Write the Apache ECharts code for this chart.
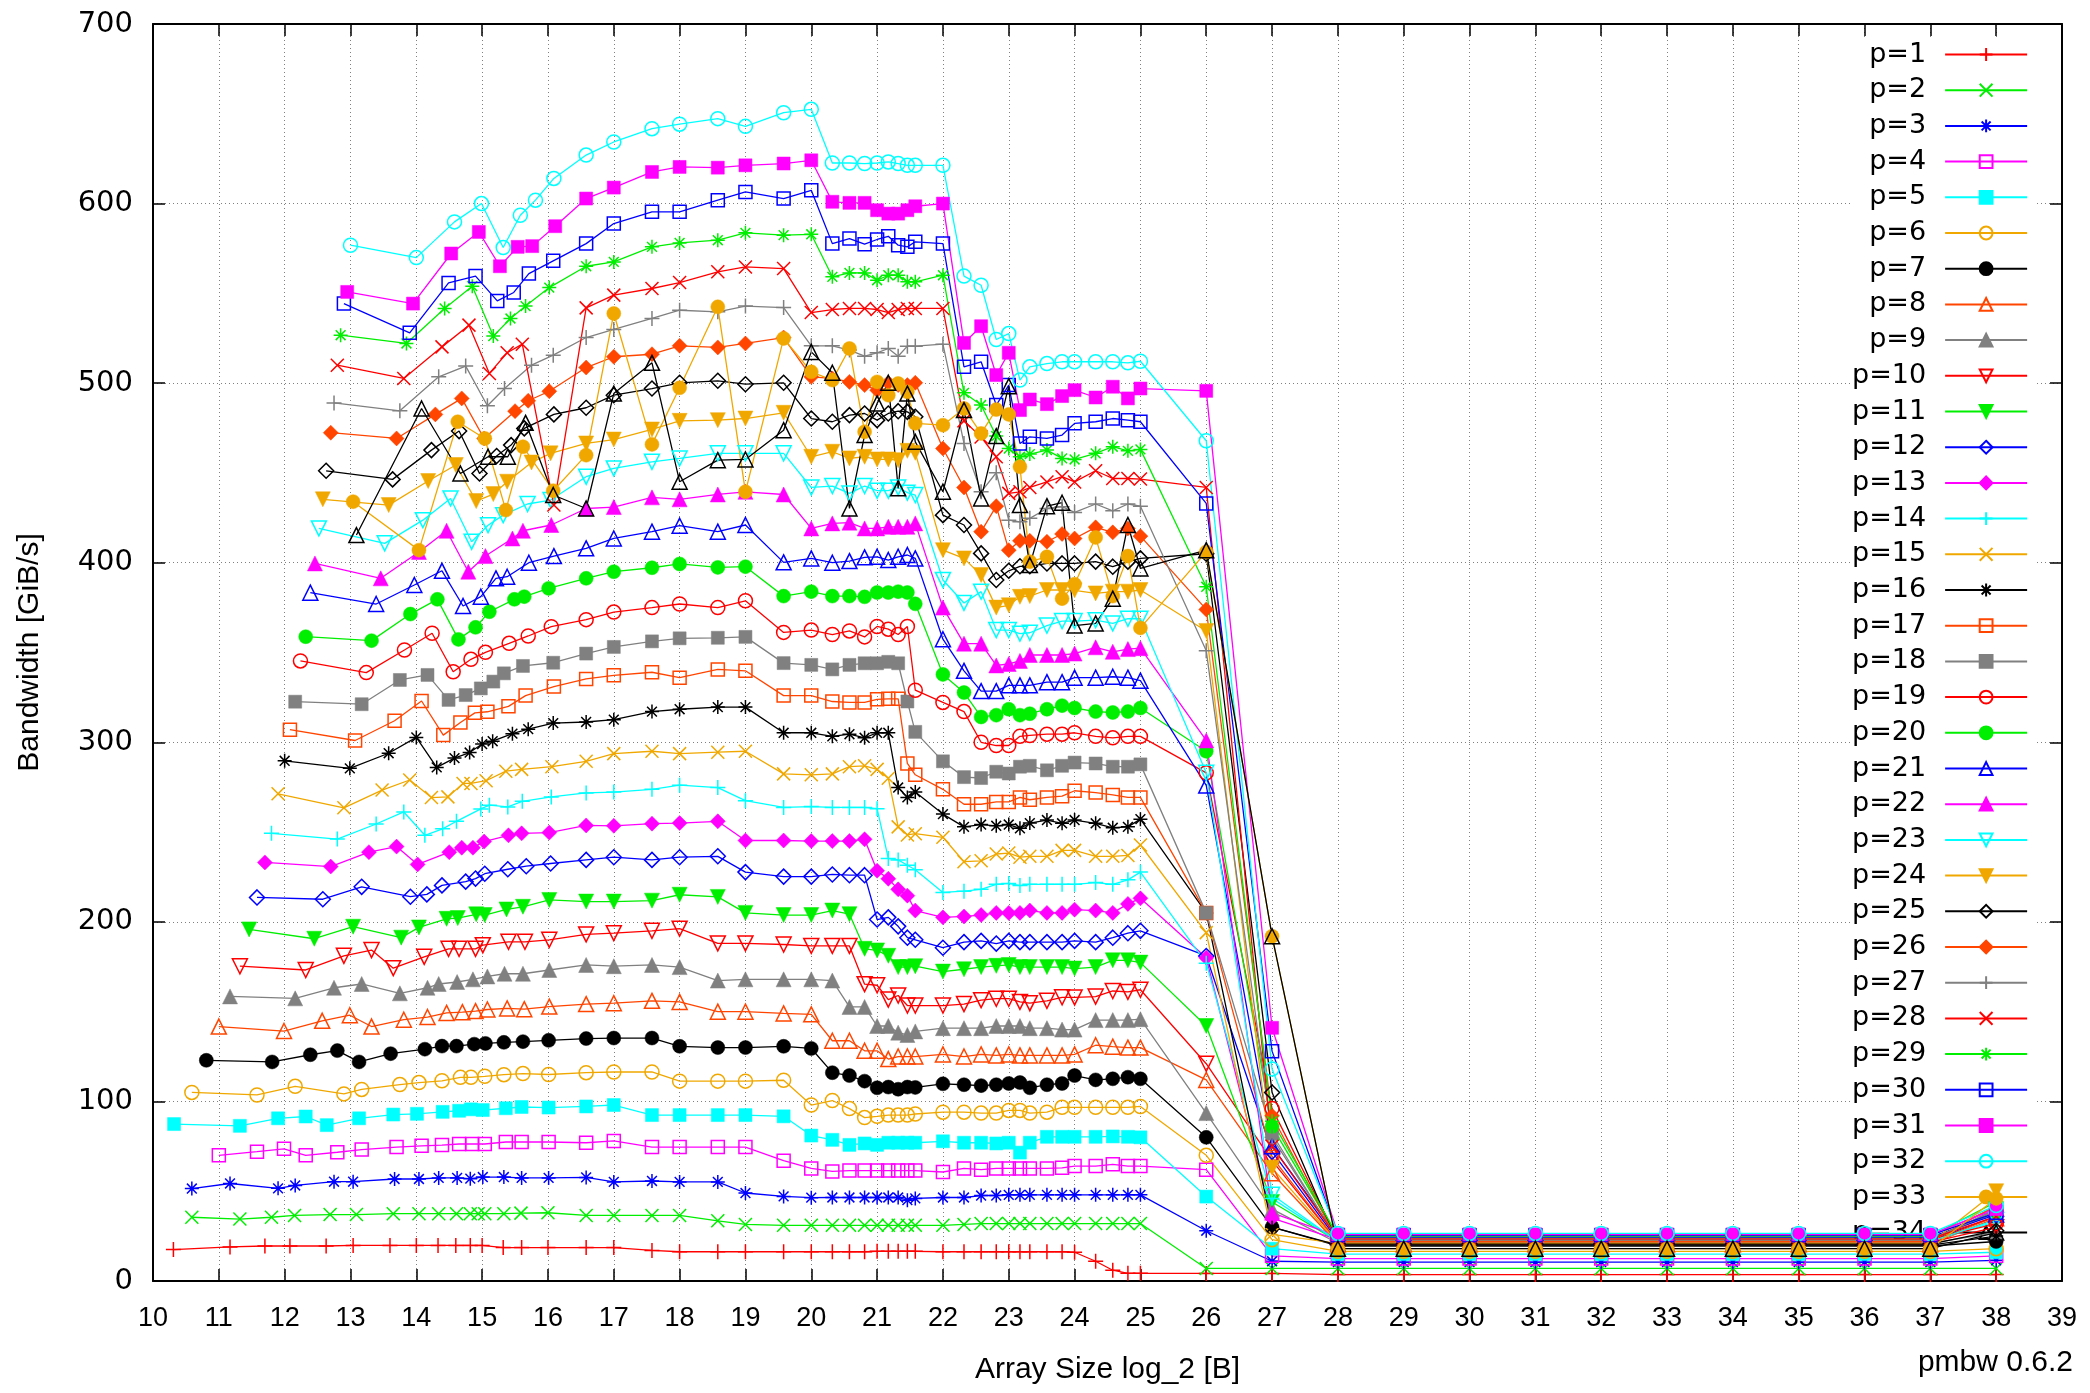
<!DOCTYPE html>
<html>
<head>
<meta charset="utf-8">
<script src="https://cdn.jsdelivr.net/npm/echarts/dist/echarts.min.js"></script>
<style>
  html, body { margin: 0; padding: 0; background: #fff; }
  #chart { width: 2090px; height: 1393px; }
</style>
</head>
<body>
<div id="chart"></div>
<script>
// thread counts
var NAMES = ['p=1','p=2','p=3','p=4','p=5','p=6','p=7','p=8','p=9','p=10','p=11','p=12',
  'p=13','p=14','p=15','p=16','p=17','p=18','p=19','p=20','p=21','p=22','p=23','p=24',
  'p=25','p=26','p=27','p=28','p=29','p=30','p=31','p=32','p=33','p=34'];

// small arrays: each series has its own sizes up to 16
var HEAD_X = [
  [10.31,11.17,11.70,12.08,12.63,13.04,13.6,14.0,14.33,14.6,14.82,15.0,15.32,15.6,16.0],
  [10.59,11.32,11.80,12.15,12.69,13.09,13.65,14.04,14.34,14.61,14.82,14.94,15.04,15.33,15.59,16.0],
  [10.59,11.17,11.9,12.16,12.75,13.04,13.67,14.04,14.34,14.62,14.82,15.01,15.33,15.6,16.01],
  [11.0,11.58,11.99,12.32,12.8,13.17,13.7,14.08,14.39,14.65,14.85,15.04,15.36,15.6,16.01],
  [10.32,11.32,11.90,12.32,12.64,13.13,13.65,14.01,14.40,14.65,14.83,15.01,15.36,15.6,16.01],
  [10.59,11.58,12.16,12.9,13.17,13.75,14.04,14.39,14.67,14.83,15.04,15.33,15.62,16.01],
  [10.81,11.81,12.39,12.8,13.13,13.61,14.13,14.39,14.61,14.88,15.05,15.33,15.62,16.01],
  [11.0,11.99,12.57,12.99,13.32,13.81,14.17,14.46,14.7,14.9,15.08,15.38,15.64,16.02],
  [11.17,12.16,12.75,13.17,13.75,14.17,14.34,14.62,14.86,15.08,15.34,15.62,16.02],
  [11.32,12.32,12.9,13.32,13.65,14.12,14.49,14.65,14.9,15.01,15.4,15.65,16.02],
  [11.46,12.45,13.04,13.77,14.04,14.46,14.63,14.91,15.04,15.37,15.62,16.02],
  [11.58,12.58,13.17,13.91,14.16,14.39,14.75,14.9,15.04,15.39,15.67,16.04],
  [11.7,12.7,13.28,13.7,14.02,14.5,14.69,14.86,15.03,15.4,15.6,16.02],
  [11.8,12.8,13.39,13.81,14.13,14.4,14.61,14.98,15.11,15.39,15.61,16.05],
  [11.9,12.9,13.48,13.9,14.23,14.48,14.71,14.83,15.06,15.36,15.6,16.06],
  [12.0,12.99,13.58,14.0,14.31,14.58,14.81,15.0,15.16,15.46,15.7,16.08],
  [12.08,13.07,13.67,14.08,14.41,14.67,14.89,15.08,15.4,15.66,16.09],
  [12.16,13.17,13.75,14.17,14.49,14.75,14.98,15.17,15.33,15.62,16.08],
  [12.24,13.24,13.82,14.24,14.56,14.83,15.05,15.41,15.7,16.05],
  [12.32,13.32,13.91,14.32,14.64,14.9,15.11,15.49,15.64,16.01],
  [12.39,13.39,13.97,14.39,14.71,14.98,15.21,15.38,15.71,16.09],
  [12.46,13.46,14.04,14.46,14.79,15.05,15.46,15.62,16.05],
  [12.52,13.52,14.1,14.52,14.84,15.09,15.32,15.69,16.04],
  [12.58,13.58,14.18,14.6,14.91,15.17,15.38,15.75,16.04],
  [12.63,13.64,14.23,14.65,14.96,15.22,15.44,15.64,16.09],
  [12.7,13.7,14.29,14.69,15.03,15.5,15.7,16.02],
  [12.75,13.75,14.34,14.75,15.08,15.34,15.75,16.08],
  [12.8,13.81,14.39,14.8,15.11,15.38,15.61,16.09],
  [12.85,13.85,14.43,14.85,15.17,15.43,15.66,16.02],
  [12.9,13.9,14.49,14.9,15.23,15.48,15.71,16.08],
  [12.95,13.95,14.53,14.95,15.27,15.54,15.76,16.11],
  [13.0,14.0,14.58,14.99,15.32,15.58,15.81,16.09],
  [13.04,14.04,14.63,15.04,15.36,15.62,16.08],
  [13.09,14.08,14.67,15.09,15.39,15.66,16.08]
];

var HEAD_Y = [
  [17.5,19,19.5,19.5,19.5,19.8,19.8,19.8,19.8,19.8,19.8,19.8,18.6,18.6,18.6],
  [35.5,34.5,35.5,36.5,37,37,37.5,37.5,37.5,37.5,37.5,37.5,37.5,37.5,37.8,38],
  [51.5,54.3,51.6,53.2,55.3,55.3,56.8,56.8,57.4,57.4,57,57.9,57.9,57.4,57.4],
  [70,72,73.6,70,71.7,73.2,74.6,75.3,75.7,76.3,76.3,76.3,77.4,77.4,77.4],
  [87.4,86.4,90.6,91.6,86.8,90.6,92.7,93.1,94.2,94.8,95.6,95.2,96.2,96.9,96.6],
  [105,103.6,108.4,104.2,106.7,109.4,110.5,111.5,113.4,113.4,114,114.9,115.5,115],
  [122.9,122,126,128.3,122,126.6,129.1,130.8,130.8,131.9,132.3,132.9,133.3,134],
  [141.7,139.2,144.9,148,141.7,145.5,147,149.3,149.7,150.3,151.2,151.8,151.4,152.8],
  [158.5,157.4,163.3,165.4,160.2,163.3,165.4,166.5,168,169.6,171.1,171.1,173.2],
  [175.3,173.2,181.1,184.3,174.2,180.5,185,185,185,187,188.9,188.9,190],
  [195.8,190.6,197.3,191.2,196.9,201.7,202.1,204.2,203.8,206.9,208.4,212.2],
  [213.6,212.6,219.5,214,215.3,220.3,222.4,224.1,226.8,229.3,231,232.5],
  [233.1,230.8,238.8,241.9,232,238.8,241.3,241.3,244.7,248.2,249.3,249.7],
  [249.3,246.1,254.5,261.2,248.2,251.8,256,262.9,265,264,267.1,269.6],
  [271.3,263.5,273.4,279,269.2,269.6,277.1,277.1,278.6,283.9,284.9,286.4],
  [289.7,285.5,293.9,302.7,286,291.2,294.3,299,300.6,304.8,307.3,310.7],
  [307,301,312,323,304,311,316.4,317,320,326,331],
  [322.6,321.2,334.7,337.5,323.6,326.3,330,333.8,338.4,342.5,344.3],
  [345.3,338.8,351.4,360.7,339.3,346.2,350.1,355.1,359.2,364.4],
  [358.8,356.6,371.4,379.6,357.3,364,372.7,379.6,381.1,385.7],
  [383.3,377,387.6,395.5,375.9,381.1,391.3,392.2,400,403.7],
  [399.6,391.3,406,417.8,395,403.7,413.5,417.8,421],
  [419.1,410.8,423.7,435.8,411.7,420.9,426.5,432.7,434.9],
  [435.3,432.1,445.5,454.4,434.3,438.2,445.1,455.8,460.9],
  [451.2,446.4,462.7,473.3,449.7,459.4,465.5,474.8,482.6],
  [472.4,469.2,482.6,491.5,469.2,484.4,490.2,495.5],
  [489,484.6,503.5,509.5,487.4,497,510,515.6],
  [510,502.6,520.2,532.3,505.4,516.9,521.7,432.1],
  [526.7,522.1,541.6,554,526.2,536,542.9,553.2],
  [544.3,528,555.8,559.6,545.8,550.5,561,568.1],
  [550.8,544.3,572.2,584.2,565.1,575.9,576.3,587.4],
  [576.8,569.9,589.8,600,575.5,593.5,601.9,614],
  [434,407,478.5,469.2,429.3,464.6,440.1],
  [415.4,485.9,449.7,459,459,477.9,437.7]
];

// sizes shared by all series from 16.58 on
var TAIL_X = [16.58,17,17.58,18,18.58,19,19.58,20,20.32,20.58,20.81,21,21.17,21.32,21.46,21.58,
  22,22.32,22.58,22.81,23,23.17,23.32,23.58,23.81,24,24.32,24.58,24.81,25,
  26,27,28,29,30,31,32,33,34,35,36,37,38];

var TAIL_Y = [
  [18.6,18.6,17,16.3,16.3,16.3,16.3,16.3,16.3,16.3,16.3,16.5,16.5,16.5,16.5,16.5,16.3,16.3,16.3,16.3,16.3,16.3,16.3,16.3,16.3,16,11,6,4.3,4.3, 4.2,4.2, 3.6,3.6,3.6,3.6,3.6,3.6,3.6,3.6,3.6,3.6, 3.6],
  [36.5,36.5,36.5,36.5,33.5,31.5,31,31,31,31,31,31,31,31,31,31,31,31.5,32,32,32,32,32,32,32,32,32,32,32,32, 7,7, 7,7,7,7,7,7,7,7,7,7, 7],
  [57.7,55.2,55.7,55.2,55.2,49,47.1,46.4,46.5,46.5,46.5,46.5,46.5,46.5,45,46,46.5,46.5,47.6,47.6,48,48,48,48,48,48,48,48,48,48, 28,11, 10.5,10.5,10.5,10.5,10.5,10.5,10.5,10.5,10.5,10.5, 11.5],
  [77,78,74.6,74.6,74.6,74.6,67,62.7,61,61.5,61.5,61.5,61.5,61.5,61.5,61.5,60.7,62.7,62,62.7,62.7,62.7,62.7,62.7,63,64,64,65,64,64, 62,14, 12.5,12.5,12.5,12.5,12.5,12.5,12.5,12.5,12.5,12.5, 14],
  [97.2,98,92.4,92.4,92.4,92.4,91.7,81,78.6,75.8,76.6,75.8,77,77,77,77,77.8,77,77,76.6,77,71.5,77,80.3,80.3,80.3,80.3,80.5,80.3,80, 47,18, 15,15,15,15,15,15,15,15,15,15, 16],
  [116,116.4,116.4,111.3,111.3,111.3,111.8,98,100.5,96,91,91.7,92.4,92.4,92.4,93,94,94,93.5,93.5,95,95,93.5,94,96.7,96.7,96.7,96.7,96.7,97.2, 70,23, 16.5,16.5,16.5,16.5,16.5,16.5,16.5,16.5,16.5,16.5, 18],
  [135,135.3,135.3,130.7,130,130,130.7,129.5,116,114.4,111.3,107.6,108,106.8,108,107.8,109.8,109.3,108.8,109.3,110,110.5,107.6,109.3,110,114.4,112,112.6,113.5,112.6, 80,30, 19.5,19.5,19.5,19.5,19.5,19.5,19.5,19.5,19.5,19.5, 22],
  [154.2,154.7,156,155.4,150,150,149,148.5,133.8,133.8,128.2,128.2,123.6,125,125,125,126.2,125,126.2,125.6,126.2,125.6,125.6,125.6,125.6,126.2,131.3,130.5,130,130, 112,60, 20.5,20.5,20.5,20.5,20.5,20.5,20.5,20.5,20.5,20.5, 35],
  [176,175.3,176,174.8,167.3,168,168,168,167.3,152.6,152.6,142,142,138.3,137,139,140.8,140.8,140.8,142,142,142,140.8,140.8,140,140,145.3,145.3,145.3,145.8, 93.5,40, 21,21,21,21,21,21,21,21,21,21, 27],
  [193,193.7,195,196.2,188,188,187.4,186.6,186.6,186.6,165.3,164.7,156.7,159,153.4,153.4,153.4,154.2,156.4,157.2,157.2,155.4,154.7,156,158,157.9,158.4,161.5,161,162.2, 121,67, 21.5,21.5,21.5,21.5,21.5,21.5,21.5,21.5,21.5,21.5, 30],
  [211.3,211.3,211.8,215.1,213.9,205,203.8,203.8,206.3,204.3,185,184.1,181.1,174.8,174.8,175.3,172.3,173.6,174.8,175.5,176,174.8,174.8,174.8,174.8,174,174.8,178.6,178.6,177.3, 142,44, 22,22,22,22,22,22,22,22,22,22, 40],
  [234.5,236,234.5,236,236.5,227.7,225.2,225.2,226.4,226,226,201.3,202.5,197.5,191.2,190,185.6,188.7,189.4,187.9,189.4,188.7,188.7,188.7,188.7,189.4,188.7,191.2,193.7,195, 181,72, 22.5,22.5,22.5,22.5,22.5,22.5,22.5,22.5,22.5,22.5, 36],
  [253.7,253.5,254.7,255,256,245.3,245.3,245,245,245,246,228.5,224,218.1,214.6,206.3,202.5,203,203.8,205,205,205,206.3,205,205,206.8,206.3,205,210,213.1, 180,35, 23,23,23,23,23,23,23,23,23,23, 38],
  [271.8,272.3,273.8,276.1,274.8,267.5,263.7,264.2,263.7,263.7,263.7,263,235.3,234.5,231.5,229,216.4,217.1,218.1,220.9,221.4,220.2,220.9,220.9,220.9,220.9,221.9,220.9,223.4,227.7, 177,46, 22,22,22,22,22,22,22,22,22,22, 33],
  [289.4,293.7,295,293.7,294.5,295,282.4,281.9,282.4,286.4,286.9,284.9,280,252.9,248.4,249.1,247.1,233.5,234,237.8,238.3,236,236.5,236.5,239.8,239.8,236.5,236.5,237,242.8, 194,26, 21,21,21,21,21,21,21,21,21,21, 40],
  [311.3,312.6,317.1,318.4,319.6,319.6,305.3,305.3,303.3,304.5,302.5,305.3,305.3,274.8,269.3,272.3,260,252.9,254.2,253.5,254.2,252.1,255,256.7,254.9,256.7,254.9,252.4,252.9,257.2, 205,30, 20,20,20,20,20,20,20,20,20,20, 25],
  [335.3,337.3,339,336,340.6,339.8,326,326,322.7,322.2,322.2,323.9,324.2,324.2,288.2,281.9,273.8,265.5,265.5,266.8,266.8,269.3,268,269.3,270,273,272,270.7,269.3,269.3, 205,69, 21.5,21.5,21.5,21.5,21.5,21.5,21.5,21.5,21.5,21.5, 36],
  [349.4,353.1,356.2,357.9,358.2,358.7,344.1,343.1,340.6,343.1,344,344,344.8,344,322.7,305.8,289.4,280.6,280.1,283.6,282.6,286.4,286.9,284.4,286.9,288.7,288.2,286.4,286.4,287.7, 205,82, 22.5,22.5,22.5,22.5,22.5,22.5,22.5,22.5,22.5,22.5, 40],
  [368.3,372.5,375,377,375,378.8,361.2,362.5,360,362,358.7,364.5,363,360,364.5,329,322.2,317.1,300,298.2,298.2,303.3,303.8,304.5,304.5,305.3,303.3,302.5,303.3,303.3, 283,96, 23,23,23,23,23,23,23,23,23,23, 32],
  [391.3,395,397.2,399.3,397.4,397.8,381.4,383.9,381.4,381.4,381,383.4,383.4,383.9,383.4,377.1,337.8,327.7,314.1,315.1,318.4,315.1,315.9,318.4,320.4,319.1,317.1,316.6,317.1,319.1, 295,86, 24,24,24,24,24,24,24,24,24,24, 38],
  [408,413.5,417.3,420.6,417.3,421,400.2,402.4,400,400.9,403,403.3,401.5,403.3,404.3,402.4,357.4,339.8,328.5,328.5,331.7,331.7,331.7,333.5,333.5,336,336,336.5,336,334.3, 276,75, 24.5,24.5,24.5,24.5,24.5,24.5,24.5,24.5,24.5,24.5, 37],
  [430.2,431,436.4,435.3,438,439.5,438,419.1,421.9,422.3,419.1,419.1,420,420,420,421.9,375,354.9,354.9,342.8,343.6,345.3,348.6,348.6,348.6,349.4,352.9,350.4,351.9,352.4, 301,38, 25,25,25,25,25,25,25,25,25,25, 41],
  [447.9,452.5,456.2,458.1,460.9,460.9,460.9,441.9,442.7,438.6,442.7,440.1,440.1,441.9,439,437.7,390.4,377.6,383.9,362.5,362.5,360.5,361,365,367.5,367.5,368,366.2,368.8,368.8, 283,48, 22,22,22,22,22,22,22,22,22,22, 34],
  [466.4,468.6,474.2,479,479.4,480.3,483.5,459,461.8,458.1,459,457.5,457.5,457.1,462.3,461.2,407,402.4,393.1,375,376.3,381,381.4,384.8,384.8,384.6,382.9,383.9,383.9,384.8, 362,63, 21,21,21,21,21,21,21,21,21,21, 50],
  [486.3,493.3,497,500.2,501.3,499.4,500.2,480.3,478.5,482.2,483.1,479.4,483.1,484.4,484,481.3,426.5,421,405.2,390.4,395.5,398,398,399.6,399.6,399.6,400.6,397.8,400.6,402.4, 405,105, 20.5,20.5,20.5,20.5,20.5,20.5,20.5,20.5,20.5,20.5, 28],
  [508.7,514.7,516.1,520.8,519.9,522.1,525.4,503.5,502.6,500.7,498.9,496.1,500.2,498.9,498.9,500.2,463.6,441.9,417.3,431.5,407,412.2,412.2,411.7,416,413.5,419.7,416.9,419.1,414.8, 374,92, 22,22,22,22,22,22,22,22,22,22, 42],
  [525.4,529.9,536,540.6,539.7,542.9,542.1,520.8,520.8,518.4,515,516.9,519.3,515,520.6,520.6,521.7,466.4,439.5,450.1,423.7,422.8,424.7,430.2,431.2,428,432.7,428.9,432.7,431.5, 351,80, 23,23,23,23,23,23,23,23,23,23, 39],
  [541.9,549,552.7,556,562,564.7,563.8,539.3,541,541.6,541.6,541,539.3,541,541.6,541.6,541.6,479,470,459,438.6,439.5,441.9,445,447.9,445,451.2,446.9,446.9,446.6, 441.9,75, 23.5,23.5,23.5,23.5,23.5,23.5,23.5,23.5,23.5,23.5, 36],
  [565.1,567.5,575.9,578.1,579.6,583.7,582.4,582.9,559.2,561.4,561.4,557.3,560.1,560.1,556.4,556.4,560.1,494.6,487.8,470.5,463.6,459,460.5,462.7,458.1,457.5,460.9,464.6,462.3,463.1, 386.6,89, 25,25,25,25,25,25,25,25,25,25, 44],
  [577.7,588.9,595.4,595.4,601.9,606.5,602.8,607.4,577.7,580.5,577.4,580,581.8,576.8,575.9,578.7,577.7,509.1,511.9,487.8,498.9,466.4,470.1,469.2,471.1,477.6,478.5,480.3,479.4,478.5, 433,128, 25.5,25.5,25.5,25.5,25.5,25.5,25.5,25.5,25.5,25.5, 38],
  [602.8,608.9,617.6,620.4,620,621.3,622.3,624.1,601,600.4,600.4,596.3,594.4,594.4,596.3,598.5,600,522.4,531.7,504.5,516.9,485,490.9,488.3,492.8,496.1,492,498,491.5,497, 495.7,141, 26,26,26,26,26,26,26,26,26,26, 40],
  [627,634.3,641.7,644.2,647.3,643,650.6,652.5,622.6,622.6,622.3,622.6,623.2,622.3,621.3,621.3,621.3,559.6,554.5,524.3,527.6,501.7,509.1,510.9,511.9,511.9,511.9,511.9,511.3,512.2, 467.9,118, 26.5,26.5,26.5,26.5,26.5,26.5,26.5,26.5,26.5,26.5, 42],
  [459.9,538.8,465.9,497.4,542.5,439.5,524.9,506.3,501.7,519.3,472.9,500.7,493.3,499.8,495.2,477.6,476.6,485.9,472,485.3,482.6,453.4,400.6,403.3,380,388,414.1,381.4,403.7,363.7, 406,192, 18,18,18,18,18,18,18,18,18,18, 46],
  [430.2,494.2,511.3,445.1,457.1,457.5,473.8,517.4,505.8,430.2,471.1,488.7,500.2,441.4,494.2,467.3,439.5,485,435.8,470.5,498.3,432.1,398.7,431.5,433.4,365,366.2,380,421,396.8, 407,192, 18,18,18,18,18,18,18,18,18,18, 27]
];

// gnuplot-like colour cycle (9) and point type cycle (13)
var PALETTE = ['#ff0000', '#00ee00', '#0000ff', '#ff00ff', '#00ffff', '#f0a800', '#000000', '#ff4500', '#808080'];
var PLUS = 'path://M5,0 L5,10 M0,5 L10,5';
var CROSS = 'path://M0,0 L10,10 M10,0 L0,10';
var STAR = 'path://M5,0 L5,10 M0,5 L10,5 M1.5,1.5 L8.5,8.5 M8.5,1.5 L1.5,8.5';
var MARKERS = [
  { symbol: PLUS, size: 15, hollow: true },
  { symbol: CROSS, size: 13, hollow: true },
  { symbol: STAR, size: 14, hollow: true },
  { symbol: 'rect', size: 13, hollow: true },
  { symbol: 'rect', size: 13 },
  { symbol: 'circle', size: 14, hollow: true },
  { symbol: 'circle', size: 14 },
  { symbol: 'triangle', size: 15, hollow: true },
  { symbol: 'triangle', size: 15 },
  { symbol: 'triangle', size: 15, rotate: 180, hollow: true },
  { symbol: 'triangle', size: 15, rotate: 180 },
  { symbol: 'diamond', size: 15, hollow: true },
  { symbol: 'diamond', size: 15 }
];

var FONT = 'Liberation Sans, Arial, sans-serif';
var WIDE = 'DejaVu Sans, sans-serif';

var series = NAMES.map(function (name, i) {
  var c = PALETTE[i % 9];
  var m = MARKERS[i % 13];
  var pts = [];
  HEAD_X[i].forEach(function (x, j) { pts.push([x, HEAD_Y[i][j]]); });
  TAIL_X.forEach(function (x, j) { pts.push([x, TAIL_Y[i][j]]); });
  return {
    name: name,
    type: 'line',
    data: pts,
    z: 3,
    symbol: m.symbol,
    symbolSize: m.size,
    symbolRotate: m.rotate || 0,
    showAllSymbol: true,
    animation: false,
    lineStyle: { color: c, width: 1.3 },
    itemStyle: m.hollow
      ? { color: 'none', borderColor: c, borderWidth: 1.5 }
      : { color: c, borderColor: c, borderWidth: 0.5 },
    emphasis: { disabled: true }
  };
});

var chart = echarts.init(document.getElementById('chart'));

var tickStyle = { inside: true, length: 12, lineStyle: { color: '#000', width: 1.5 } };
var borderStyle = { show: true, onZero: false, lineStyle: { color: '#000', width: 2 } };
var gridLine = { show: true, lineStyle: { color: '#808080', width: 1, type: [1, 3] } };

chart.setOption({
  animation: false,
  backgroundColor: '#fff',
  grid: { left: 153, right: 28, top: 24, bottom: 112, outerBoundsMode: 'none' },
  xAxis: [{
    type: 'value', min: 10, max: 39, interval: 1, position: 'bottom',
    axisLine: borderStyle, axisTick: tickStyle, splitLine: gridLine,
    axisLabel: { margin: 24, fontSize: 27, color: '#000', fontFamily: FONT },
    name: 'Array Size log_2 [B]', nameLocation: 'middle', nameGap: 74,
    nameTextStyle: { fontSize: 30, color: '#000', fontFamily: FONT }
  }, {
    type: 'value', min: 10, max: 39, interval: 1, position: 'top',
    axisLine: borderStyle, axisTick: tickStyle, splitLine: { show: false },
    axisLabel: { show: false }
  }],
  yAxis: [{
    type: 'value', min: 0, max: 700, interval: 100, position: 'left',
    axisLine: borderStyle, axisTick: tickStyle, splitLine: gridLine,
    axisLabel: { margin: 20, fontSize: 29, color: '#000', fontFamily: WIDE },
    name: 'Bandwidth [GiB/s]', nameLocation: 'middle', nameGap: 108, nameRotate: 90,
    nameTextStyle: { fontSize: 30, color: '#000', fontFamily: FONT }
  }, {
    type: 'value', min: 0, max: 700, interval: 100, position: 'right',
    axisLine: borderStyle, axisTick: tickStyle, splitLine: { show: false },
    axisLabel: { show: false }
  }],
  legend: {
    data: NAMES,
    orient: 'vertical',
    left: 1850,
    top: 37,
    z: 1,
    itemGap: 8.7,
    itemWidth: 82,
    itemHeight: 16,
    align: 'right',
    selectedMode: false,
    backgroundColor: '#fff',
    padding: [4, 8, 4, 2],
    formatter: function (name) { return '{t|' + name + '}'; },
    textStyle: {
      fontSize: 27, fontFamily: WIDE, color: '#000',
      rich: { t: { width: 74, align: 'right', padding: [0, 14, 0, 0],
        fontSize: 27, fontFamily: WIDE, color: '#000' } }
    }
  },
  graphic: [{
    type: 'text', right: 17, top: 1348,
    style: { text: 'pmbw 0.6.2', fontSize: 30, fontFamily: FONT, fill: '#000' }
  }],
  series: series
});
</script>
</body>
</html>
